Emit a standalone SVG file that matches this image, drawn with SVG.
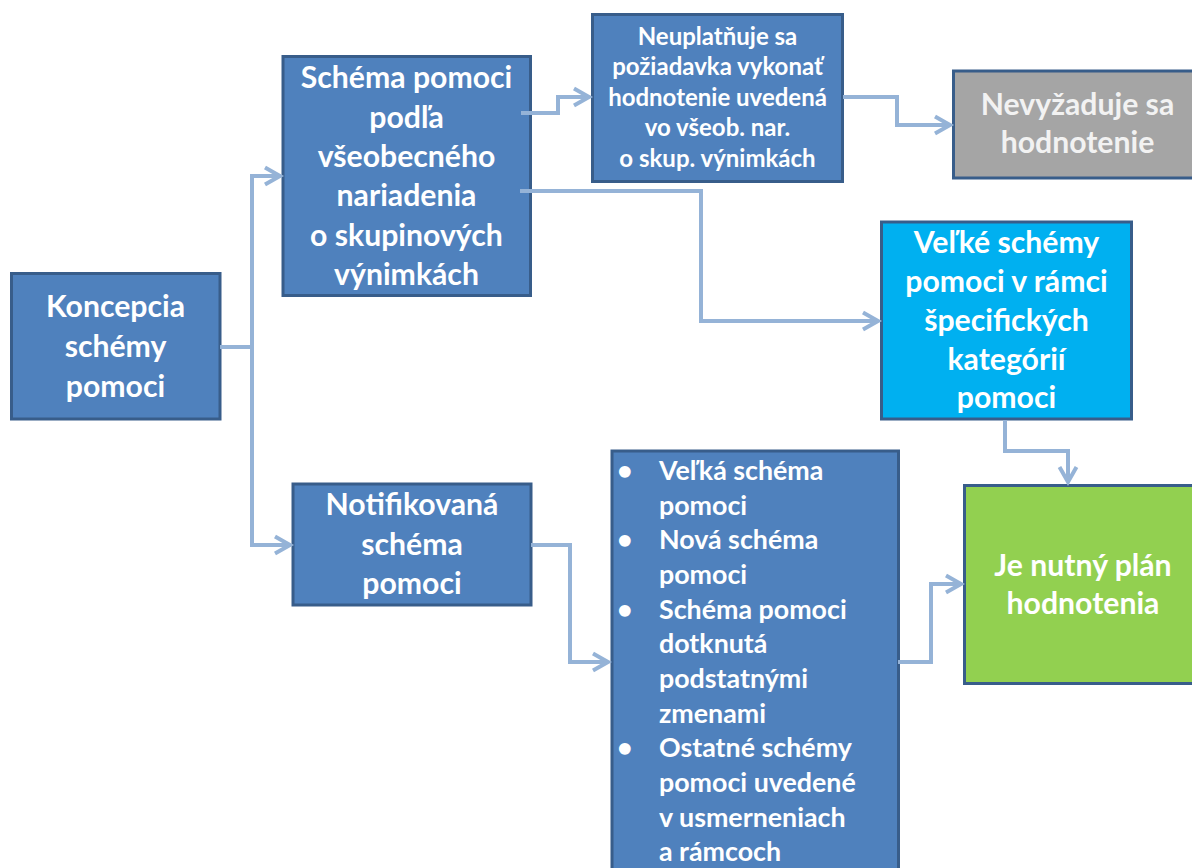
<svg xmlns="http://www.w3.org/2000/svg" width="1192" height="868" viewBox="0 0 1192 868">
<style>
.box{stroke:#385D8A;stroke-width:3}
.blue{fill:#4F81BD}
.cyan{fill:#00B0F0}
.grey{fill:#A5A5A5}
.green{fill:#92D050}
.t{font-family:Lato,"Liberation Sans",sans-serif;font-weight:bold;fill:#FFFFFF;text-anchor:middle}
.big{font-size:30.2px}
.mid{font-size:24px}
.lst{font-size:26.8px;text-anchor:start}
.conn{fill:none;stroke:#95B3D7;stroke-width:4;stroke-linejoin:miter}
</style>
<defs>
<marker id="arr" markerUnits="userSpaceOnUse" viewBox="-18 -11 20 22" refX="0" refY="0" markerWidth="20" markerHeight="22" orient="auto" overflow="visible">
<path d="M-15,-8.5 L0,0 L-15,8.5" fill="none" stroke="#95B3D7" stroke-width="4" stroke-linejoin="miter"/>
</marker>
</defs>
<rect width="1192" height="868" fill="#FFFFFF"/>
<g id="n-koncepcia">
<rect class="box blue" x="11.5" y="273.5" width="208.5" height="145.5"/>
<text class="t big"><tspan x="115.5" y="317">Koncepcia</tspan><tspan x="115.5" y="357">schémy</tspan><tspan x="115.5" y="397">pomoci</tspan></text>
</g>
<g id="n-schema">
<rect class="box blue" x="283" y="56.5" width="247.5" height="239"/>
<text class="t big"><tspan x="406.5" y="88">Schéma pomoci</tspan><tspan x="406.5" y="127.5">podľa</tspan><tspan x="406.5" y="167">všeobecného</tspan><tspan x="406.5" y="206">nariadenia</tspan><tspan x="406.5" y="245.5">o skupinových</tspan><tspan x="406.5" y="285">výnimkách</tspan></text>
</g>
<g id="n-neuplatnuje">
<rect class="box blue" x="592.5" y="14.5" width="250" height="167"/>
<text class="t mid"><tspan x="717.5" y="45">Neuplatňuje sa</tspan><tspan x="717.5" y="75.4">požiadavka vykonať</tspan><tspan x="717.5" y="105.8">hodnotenie uvedená</tspan><tspan x="717.5" y="136.2">vo všeob. nar.</tspan><tspan x="717.5" y="166.6">o skup. výnimkách</tspan></text>
</g>
<g id="n-nevyzaduje">
<rect class="box grey" x="953.5" y="71" width="250" height="107"/>
<text class="t big" style="fill:#F2F2F2"><tspan x="1077.5" y="115">Nevyžaduje sa</tspan><tspan x="1077.5" y="153">hodnotenie</tspan></text>
</g>
<g id="n-velke">
<rect class="box cyan" x="881.5" y="222" width="250" height="197"/>
<text class="t big"><tspan x="1006.5" y="253">Veľké schémy</tspan><tspan x="1006.5" y="292">pomoci v rámci</tspan><tspan x="1006.5" y="331">špecifických</tspan><tspan x="1006.5" y="370">kategórií</tspan><tspan x="1006.5" y="408">pomoci</tspan></text>
</g>
<g id="n-notifikovana">
<rect class="box blue" x="293" y="484" width="238" height="121"/>
<text class="t big"><tspan x="412" y="515">Notifikovaná</tspan><tspan x="412" y="554.5">schéma</tspan><tspan x="412" y="594">pomoci</tspan></text>
</g>
<g id="n-zoznam">
<rect class="box blue" x="612" y="451" width="286.5" height="430"/>
<text class="t lst">
<tspan x="617" y="480">•</tspan><tspan x="659" y="480">Veľká schéma</tspan>
<tspan x="659" y="514.7">pomoci</tspan>
<tspan x="617" y="549.3">•</tspan><tspan x="659" y="549.3">Nová schéma</tspan>
<tspan x="659" y="584">pomoci</tspan>
<tspan x="617" y="618.7">•</tspan><tspan x="659" y="618.7">Schéma pomoci</tspan>
<tspan x="659" y="653.3">dotknutá</tspan>
<tspan x="659" y="688">podstatnými</tspan>
<tspan x="659" y="722.7">zmenami</tspan>
<tspan x="617" y="757.3">•</tspan><tspan x="659" y="757.3">Ostatné schémy</tspan>
<tspan x="659" y="792">pomoci uvedené</tspan>
<tspan x="659" y="826.7">v usmerneniach</tspan>
<tspan x="659" y="861.3">a rámcoch</tspan>
</text>
</g>
<g id="n-plan">
<rect class="box green" x="964.5" y="485.5" width="240" height="198"/>
<text class="t big"><tspan x="1083" y="576">Je nutný plán</tspan><tspan x="1083" y="614">hodnotenia</tspan></text>
</g>
<g id="connectors">
<path class="conn" d="M220,347 H252 V176 H280" marker-end="url(#arr)"/>
<path class="conn" d="M220,347 H252 V545 H290" marker-end="url(#arr)"/>
<path class="conn" d="M521,113 H558 V97 H589" marker-end="url(#arr)"/>
<path class="conn" d="M520,191 H701 V321 H878" marker-end="url(#arr)"/>
<path class="conn" d="M843,97 H897 V125 H950" marker-end="url(#arr)"/>
<path class="conn" d="M1005,420 V451 H1068 V482" marker-end="url(#arr)"/>
<path class="conn" d="M531,545 H570 V662 H608" marker-end="url(#arr)"/>
<path class="conn" d="M898,662 H931 V584 H961" marker-end="url(#arr)"/>
</g>
</svg>
